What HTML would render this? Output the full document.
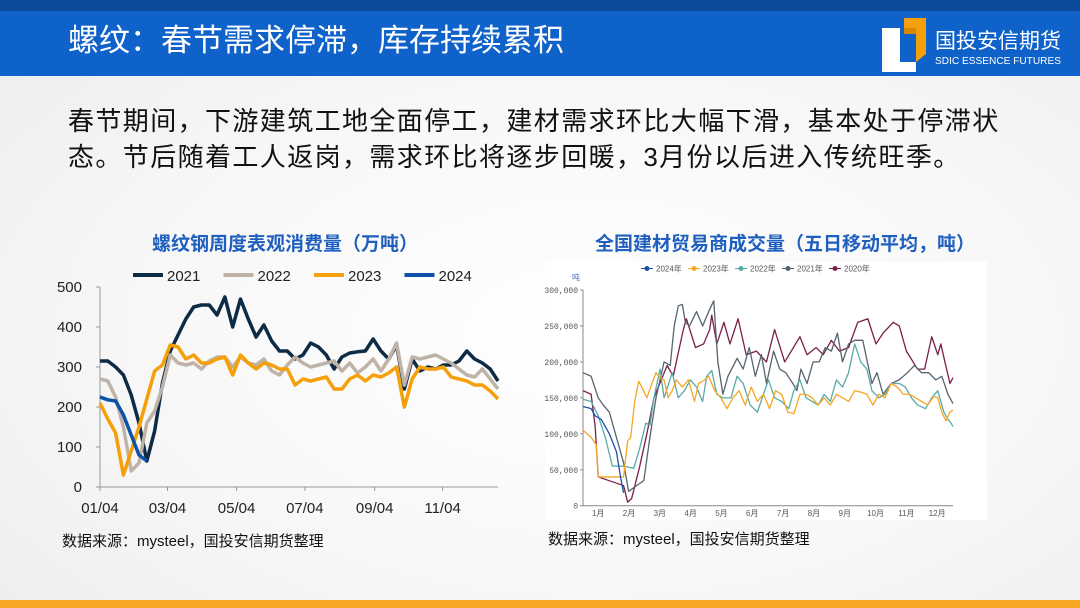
<!DOCTYPE html>
<html><head><meta charset="utf-8">
<style>
body{margin:0;width:1080px;height:608px;overflow:hidden;font-family:"Liberation Sans","Noto Sans CJK SC",sans-serif;background:radial-gradient(ellipse at 55% 55%,#ffffff 0%,#f7f7f7 55%,#ececec 100%);position:relative}
.abs{position:absolute}
</style></head><body>
<div class="abs" style="left:0;top:0;width:1080px;height:76px;background:#0e62c9;border-top:11px solid #0b4a9a;box-sizing:border-box"></div>
<div class="abs" style="left:68px;top:21px;color:#fff;font-size:31px;line-height:40px">螺纹：春节需求停滞，库存持续累积</div>
<div class="abs" style="left:880px;top:14px;width:200px;height:60px">
 <svg width="200" height="60"><path d="M2 14 H20 V48 H36 V58 H2 Z" fill="#fff"/><path d="M24 4 H46 V40 L36 48 V14 H24 Z" fill="#f5a00a"/><path d="M36 14 H24 V20 L36 20Z" fill="#d88800"/>
 <text x="55" y="34" font-size="21" fill="#fff" font-family="Liberation Sans,Noto Sans CJK SC,sans-serif">国投安信期货</text>
 <text x="55" y="50" font-size="10" fill="#fff" font-family="Liberation Sans,sans-serif" textLength="126" lengthAdjust="spacingAndGlyphs">SDIC ESSENCE FUTURES</text></svg>
</div>
<div class="abs" style="left:68px;top:103px;width:960px;font-size:26px;letter-spacing:1.4px;line-height:36px;color:#111">春节期间，下游建筑工地全面停工，建材需求环比大幅下滑，基本处于停滞状态。节后随着工人返岗，需求环比将逐步回暖，3月份以后进入传统旺季。</div>
<div class="abs" style="left:120px;top:229px;width:330px;text-align:center;font-size:19px;font-weight:bold;color:#1f5fbf">螺纹钢周度表观消费量（万吨）</div>
<div class="abs" style="left:565px;top:229px;width:440px;text-align:center;font-size:19px;font-weight:bold;color:#1f5fbf">全国建材贸易商成交量（五日移动平均，吨）</div>
<div class="abs" style="left:62px;top:530px;font-size:15px;color:#111">数据来源：mysteel，国投安信期货整理</div>
<div class="abs" style="left:548px;top:528px;font-size:15px;color:#111">数据来源：mysteel，国投安信期货整理</div>
<div class="abs" style="left:0;top:600px;width:1080px;height:8px;background:#f5a623"></div>
<svg id="lc" class="abs" style="left:0;top:0" width="1080" height="608"></svg>
<div class="abs" style="left:545px;top:262px;width:442px;height:258px;background:#fff"></div>
<svg id="rc" class="abs" style="left:0;top:0" width="1080" height="608"></svg>
<script>
const lYears=['2021','2022','2023','2024'];
const lColors=['#0d2b45','#bfb3a8','#f5a00a','#0d52a8'];
const lTicks=[0,100,200,300,400,500];
const lXLabels=['01/04','03/04','05/04','07/04','09/04','11/04'];
const lXLabelWeek=[0,8.65,17.5,26.25,35.2,43.9];
const s2021=[315,315,300,280,230,160,65,140,260,340,380,420,450,455,455,430,475,400,470,420,375,405,365,340,340,320,330,360,350,330,295,325,335,338,340,370,340,320,355,245,320,290,300,295,305,305,315,340,320,310,295,265];
const s2022=[270,265,225,150,40,60,160,190,250,330,310,305,310,295,315,325,325,300,325,310,305,320,290,280,305,325,310,300,305,310,315,290,310,285,300,320,290,320,360,255,325,320,325,330,320,310,295,280,275,295,270,245];
const s2023=[210,170,135,30,90,150,220,290,305,355,350,320,330,310,310,320,325,280,330,310,295,310,305,295,295,255,270,265,270,275,245,245,270,280,265,280,275,285,300,200,270,300,295,295,300,275,270,265,255,255,240,220];
const s2024=[225,218,215,180,130,80,65];
const lSeries=[s2021,s2022,s2023,s2024];
const NS='http://www.w3.org/2000/svg';
function mk(svg,tag,attrs,txt){const e=document.createElementNS(NS,tag);for(const k in attrs)e.setAttribute(k,attrs[k]);if(txt!==undefined)e.textContent=txt;svg.appendChild(e);return e;}
const lc=document.getElementById('lc');
const lx=w=>100+w*(398/51), ly=v=>487-v*0.4;
let ax=mk(lc,'path',{d:`M100 ${ly(500)} V487 H498`,stroke:'#999',fill:'none','stroke-width':1});


lTicks.forEach(t=>{const e=mk(lc,'text',{x:82,y:ly(t)+5,'text-anchor':'end','font-size':15,fill:'#222','font-family':'Liberation Sans'},t);


mk(lc,'line',{x1:96,x2:100,y1:ly(t),y2:ly(t),stroke:'#999'});});
lXLabels.forEach((t,i)=>{const x=lx(lXLabelWeek[i]);mk(lc,'line',{x1:x,x2:x,y1:487,y2:491,stroke:'#999'});
const e=mk(lc,'text',{x:x,y:513,'text-anchor':'middle','font-size':15,fill:'#222','font-family':'Liberation Sans'},t);

});
lSeries.forEach((s,i)=>{const p=mk(lc,'polyline',{points:s.map((v,w)=>lx(w)+','+ly(v)).join(' '),fill:'none',stroke:lColors[i],'stroke-width':3.5,'stroke-linejoin':'round'});


const lx0=133+i*90.5;
const g=mk(lc,'line',{x1:lx0,x2:lx0+30,y1:275,y2:275,stroke:lColors[i],'stroke-width':4});


mk(lc,'text',{x:lx0+34,y:281,'font-size':15,fill:'#222','font-family':'Liberation Sans'},lYears[i]);});

// right chart
const rYears=['2024年','2023年','2022年','2021年','2020年'];
const rColors=['#1d4fa8','#f5a623','#5aaaa8','#55646e','#7a1f4a'];
const rTicks=[0,50000,100000,150000,200000,250000,300000];
const rMonths=['1月','2月','3月','4月','5月','6月','7月','8月','9月','10月','11月','12月'];
const r2024=[[0,138],[8,135],[12,125],[18,120],[26,100],[33,75],[37,40],[40,18]];
const r2023=[[0,105],[8,95],[13,85],[15,40],[30,40],[40,40],[44,90],[47,95],[51,145],[55,173],[58,165],[63,150],[68,170],[72,185],[76,178],[80,175],[84,150],[88,160],[92,175],[98,165],[104,175],[110,145],[114,170],[120,175],[124,180],[130,160],[136,150],[142,135],[148,150],[154,160],[160,140],[166,165],[172,145],[178,155],[184,135],[190,160],[196,155],[202,130],[208,128],[214,155],[220,155],[226,150],[232,140],[238,150],[244,140],[250,155],[256,150],[262,145],[268,160],[274,158],[280,155],[286,140],[292,155],[298,150],[304,170],[310,165],[316,155],[322,155],[328,150],[334,145],[340,140],[346,152],[350,150],[354,130],[358,118],[362,130],[365,133]];
const r2022=[[0,148],[8,145],[15,125],[22,95],[29,55],[40,55],[50,52],[56,80],[62,115],[66,112],[70,150],[76,190],[80,150],[88,185],[94,150],[100,160],[106,175],[112,165],[118,145],[122,180],[127,188],[132,155],[138,150],[146,150],[152,180],[158,170],[165,140],[172,130],[178,155],[183,175],[189,150],[196,145],[203,135],[208,160],[214,175],[220,150],[226,145],[232,140],[238,155],[244,145],[250,175],[256,165],[262,185],[268,225],[274,200],[280,190],[285,160],[292,150],[298,155],[304,170],[312,170],[318,165],[324,150],[330,140],[338,135],[344,150],[350,160],[356,130],[360,120],[363,115],[365,110]];
const r2021=[[0,185],[8,180],[15,150],[20,140],[26,130],[33,95],[40,60],[45,20],[55,30],[60,35],[66,95],[72,150],[80,200],[86,195],[90,250],[94,278],[98,280],[101,255],[105,250],[112,270],[118,250],[124,270],[129,285],[133,200],[138,155],[143,180],[152,205],[158,190],[164,220],[170,180],[176,210],[181,170],[188,215],[194,190],[200,185],[207,170],[211,160],[215,190],[221,170],[227,200],[233,200],[239,220],[245,215],[251,240],[256,200],[262,225],[268,230],[276,230],[285,170],[290,185],[296,155],[304,170],[312,175],[320,185],[327,195],[334,185],[341,185],[348,175],[354,180],[360,155],[365,142]];
const r2020=[[0,160],[8,155],[12,110],[15,40],[40,28],[44,5],[48,10],[56,55],[63,100],[70,150],[83,195],[89,180],[99,245],[102,260],[111,220],[119,225],[125,245],[127,265],[132,225],[139,255],[145,225],[153,260],[161,210],[171,215],[181,200],[189,245],[199,200],[214,235],[221,210],[230,220],[237,210],[245,230],[253,215],[262,220],[271,255],[281,260],[289,225],[296,240],[306,255],[312,250],[319,215],[330,190],[337,190],[344,235],[350,210],[353,225],[357,200],[362,170],[365,178]];
const rSeries=[r2024,r2023,r2022,r2021,r2020];
const rc=document.getElementById('rc');
const rx=d=>583+d*(370/365), ry=v=>505.7-v*(215.7/300000);
let ra=mk(rc,'path',{d:`M583 ${ry(300000)} V505.7 H953`,stroke:'#888',fill:'none','stroke-width':1});


rTicks.forEach(t=>{mk(rc,'line',{x1:580,x2:583,y1:ry(t),y2:ry(t),stroke:'#888'});
const e=mk(rc,'text',{x:578,y:ry(t)+3,'text-anchor':'end','font-size':8,fill:'#555','font-family':'Liberation Mono'},t.toLocaleString('en-US'));

});
mk(rc,'text',{x:572,y:280,'font-size':8,fill:'#4a6fd0'},'吨');
rMonths.forEach((m,i)=>{const e=mk(rc,'text',{x:rx(i*30.4+15),y:516,'text-anchor':'middle','font-size':8,fill:'#555'},m);

});
[...rSeries].reverse().forEach((s,j)=>{const i=rSeries.length-1-j;
const p=mk(rc,'polyline',{points:s.map(d=>rx(d[0])+','+ry(d[1]*1000)).join(' '),fill:'none',stroke:rColors[i],'stroke-width':1.3,'stroke-linejoin':'round'});

});
rYears.forEach((y,i)=>{const x0=641+i*47;
const g=mk(rc,'g',{});


mk(g,'line',{x1:x0,x2:x0+12,y1:268.5,y2:268.5,stroke:rColors[i],'stroke-width':1});
mk(g,'circle',{cx:x0+6,cy:268.5,r:2.5,fill:rColors[i]});
mk(g,'text',{x:x0+15,y:271.5,'font-size':8,fill:'#555'},y);});
</script>
</body></html>
